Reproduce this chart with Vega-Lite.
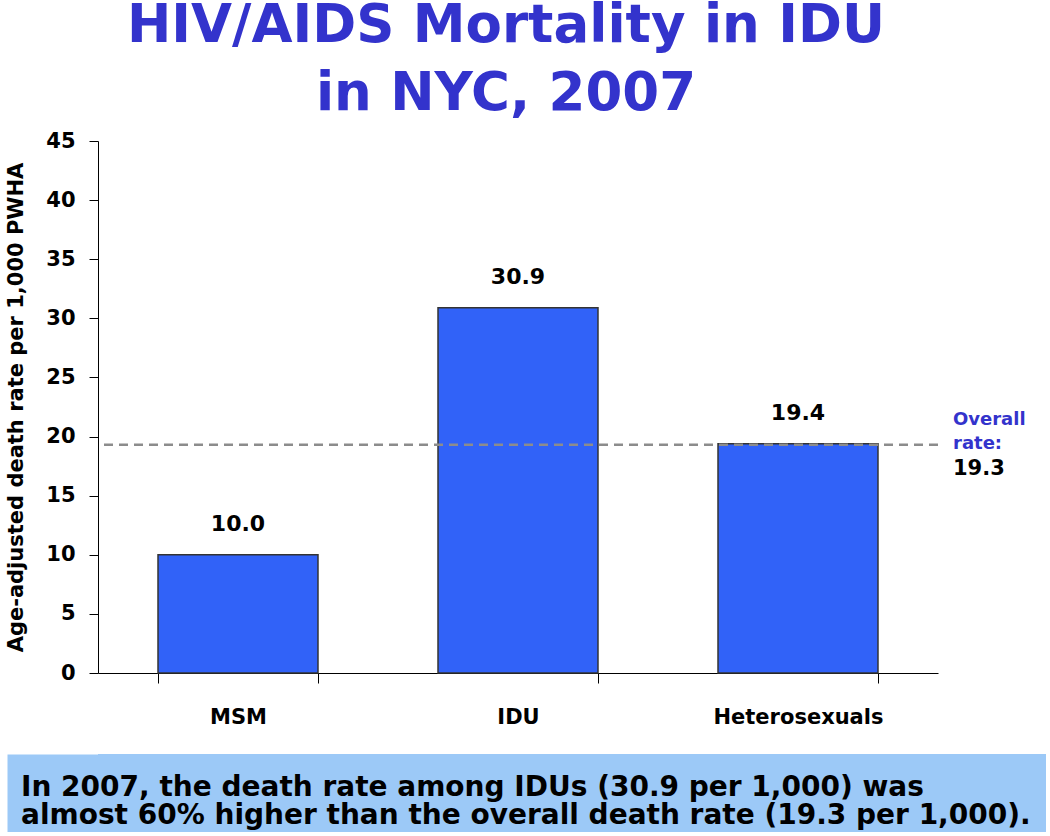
{
  "$schema": "https://vega.github.io/schema/vega-lite/v6.json",
  "background": "white",
  "padding": {"left": 5, "top": 0, "right": 0, "bottom": 0},
  "config": {"font": "DejaVu Sans", "view": {"stroke": null}},
  "spacing": 27,
  "datasets": {
    "rates": [
      {"group": "MSM", "rate": 10.0},
      {"group": "IDU", "rate": 30.9},
      {"group": "Heterosexuals", "rate": 19.4}
    ],
    "overall": [
      {"rate": 19.3, "label": ["Overall", "rate:"], "value": "19.3", "anchor": "Heterosexuals"}
    ],
    "caption": [
      {"line": 1, "text": "In 2007, the death rate among IDUs (30.9 per 1,000) was"},
      {"line": 2, "text": "almost 60% higher than the overall death rate (19.3 per 1,000)."}
    ]
  },
  "vconcat": [
    {
      "width": 840,
      "height": 532,
      "title": {
        "text": ["HIV/AIDS Mortality in IDU", "in NYC, 2007"],
        "font": "DejaVu Sans",
        "fontSize": 53,
        "fontWeight": "bold",
        "color": "#3333CC",
        "lineHeight": 68,
        "anchor": "middle",
        "frame": "group",
        "dx": -12,
        "offset": 9
      },
      "layer": [
        {
          "data": {"name": "rates"},
          "mark": {"type": "bar", "fill": "#3162F8", "stroke": "#333333", "strokeWidth": 1.5},
          "encoding": {
            "x": {
              "field": "group", "type": "nominal", "sort": null,
              "scale": {"domain": ["MSM", "IDU", "Heterosexuals"], "paddingInner": 0.4286, "paddingOuter": 0.2143},
              "axis": {
                "title": null, "labelAngle": 0, "labelFontSize": 21, "labelFontWeight": "bold",
                "labelColor": "black", "labelPadding": 23, "tickBand": "extent", "tickSize": 10,
                "tickColor": "black", "domainColor": "black", "tickWidth": 1, "domainWidth": 1
              }
            },
            "y": {
              "field": "rate", "type": "quantitative",
              "scale": {"domain": [0, 45], "nice": false},
              "axis": {
                "title": "Age-adjusted death rate per 1,000 PWHA", "titleFontSize": 21,
                "titleFontWeight": "bold", "titleColor": "black", "titlePadding": 19,
                "values": [0, 5, 10, 15, 20, 25, 30, 35, 40, 45], "grid": false,
                "labelFontSize": 21, "labelFontWeight": "bold", "labelColor": "black",
                "labelPadding": 14, "tickSize": 9, "tickColor": "black", "domainColor": "black"
              }
            }
          }
        },
        {
          "data": {"name": "rates"},
          "mark": {"type": "text", "baseline": "alphabetic", "dy": -24, "fontSize": 22, "fontWeight": "bold", "color": "black"},
          "encoding": {
            "x": {"field": "group", "type": "nominal"},
            "y": {"field": "rate", "type": "quantitative"},
            "text": {"field": "rate", "type": "quantitative", "format": ".1f"}
          }
        },
        {
          "data": {"name": "overall"},
          "mark": {"type": "rule", "color": "#8C8C8C", "strokeWidth": 2.5, "strokeDash": [9, 6]},
          "encoding": {"y": {"field": "rate", "type": "quantitative"}}
        },
        {
          "data": {"name": "overall"},
          "mark": {"type": "text", "align": "left", "baseline": "middle", "dx": 155, "dy": -25, "fontSize": 18, "fontWeight": "bold", "color": "#3333CC", "lineHeight": 24},
          "encoding": {
            "x": {"field": "anchor", "type": "nominal"},
            "y": {"field": "rate", "type": "quantitative"},
            "text": {"field": "label"}
          }
        },
        {
          "data": {"name": "overall"},
          "mark": {"type": "text", "align": "left", "baseline": "middle", "dx": 155, "dy": 24, "fontSize": 21, "fontWeight": "bold", "color": "black"},
          "encoding": {
            "x": {"field": "anchor", "type": "nominal"},
            "y": {"field": "rate", "type": "quantitative"},
            "text": {"field": "value"}
          }
        }
      ]
    },
    {
      "width": 948,
      "height": 78,
      "view": {"fill": "#9CC9F7", "stroke": null},
      "data": {"name": "caption"},
      "mark": {"type": "text", "align": "left", "baseline": "middle", "x": 0, "dx": -77, "dy": 9, "fontSize": 28, "fontWeight": "bold", "color": "black"},
      "encoding": {
        "y": {
          "field": "line", "type": "ordinal",
          "scale": {"padding": 0.893},
          "axis": {
            "title": null, "labels": false, "ticks": false,
            "domainColor": "#9CC9F7", "domainWidth": 91, "offset": 45.5, "domainCap": "butt"
          }
        },
        "text": {"field": "text"}
      }
    }
  ]
}
